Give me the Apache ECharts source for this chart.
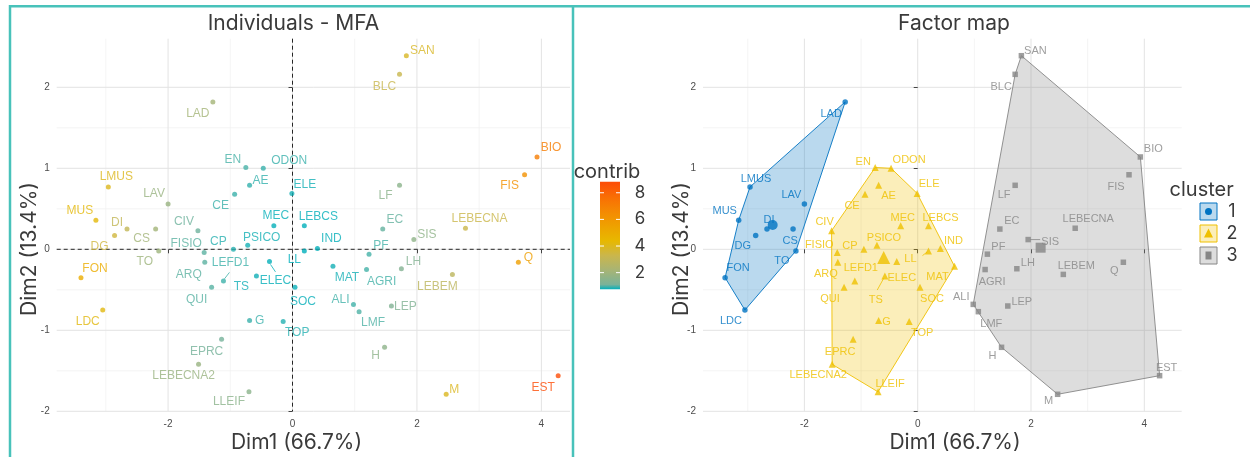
<!DOCTYPE html>
<html><head><meta charset="utf-8">
<script src="https://cdn.jsdelivr.net/npm/echarts@6/dist/echarts.min.js"></script>
<style>html,body{margin:0;padding:0;background:#fff}#c{width:1250px;height:457px}</style>
</head><body><div id="c"></div>
<script>
// ---------------- data ----------------
const names = ['LAD','LMUS','LAV','MUS','DI','DG','CS','TO','FON','LDC',
  'EN','ODON','AE','CE','ELE','CIV','MEC','LEBCS','IND','FISIO','CP','PSICO','LL','ARQ','LEFD1','ELEC','TS','QUI','MAT','SOC','G','TOP','EPRC','LEBECNA2','LLEIF',
  'SAN','BLC','BIO','FIS','LF','EC','LEBECNA','SIS','PF','LH','LEBEM','Q','AGRI','ALI','LEP','LMF','H','EST','M'];
const dim1 = [-1.28,-2.96,-2.00,-3.16,-2.66,-2.86,-2.20,-2.15,-3.40,-3.05,
  -0.75,-0.47,-0.69,-0.93,-0.01,-1.52,-0.30,0.19,0.40,-1.42,-0.95,-0.72,0.19,-1.41,-1.11,-0.37,-0.58,-1.30,0.65,0.04,-0.69,-0.15,-1.14,-1.51,-0.70,
  1.83,1.72,3.93,3.73,1.72,1.45,2.78,1.95,1.23,1.75,2.57,3.63,1.19,0.98,1.59,1.07,1.48,4.27,2.47];
const dim2 = [1.82,0.77,0.56,0.36,0.25,0.17,0.25,-0.02,-0.35,-0.75,
  1.01,1.00,0.79,0.68,0.69,0.23,0.29,0.29,0.01,-0.04,0.00,0.05,-0.02,-0.16,-0.39,-0.15,-0.33,-0.47,-0.21,-0.47,-0.88,-0.89,-1.11,-1.42,-1.76,
  2.39,2.16,1.14,0.92,0.79,0.25,0.26,0.12,-0.06,-0.24,-0.31,-0.16,-0.25,-0.68,-0.70,-0.77,-1.21,-1.56,-1.79];
const contrib = [2.10,3.96,1.82,4.28,3.02,3.47,2.07,1.96,4.94,4.17,
  0.67,0.52,0.47,0.56,0.20,1.00,0.07,0.05,0.07,0.85,0.38,0.22,0.02,0.85,0.58,0.07,0.19,0.81,0.20,0.09,0.53,0.34,1.07,1.82,1.52,
  3.83,3.23,7.08,6.24,1.51,0.91,3.30,1.61,0.64,1.32,2.84,5.59,0.63,0.60,1.28,0.73,1.55,8.74,3.94];
const cluster = [1,1,1,1,1,1,1,1,1,1,
  2,2,2,2,2,2,2,2,2,2,2,2,2,2,2,2,2,2,2,2,2,2,2,2,2,
  3,3,3,3,3,3,3,3,3,3,3,3,3,3,3,3,3,3,3];
const clusterLabels = ['1','2','3'];
const centerDim1 = [-2.56,-0.60,2.17];
const centerDim2 = [0.30,-0.10,0.02];
const xTickValues = [-2,0,2,4];
const yTickValues = [-2,-1,0,1,2];
const xMinorValues = [-3,-1,1,3];
const yMinorValues = [-1.5,-0.5,0.5,1.5];
const contribTicks = [2,4,6,8];

// ---------------- styles ----------------
const contribColors = ['#00AFBB','#7AB299','#A8B474','#CAB64C','#E7B800','#EEA200','#F48A02','#F96F04','#FC4E07'];
const clusterColors = ['#0073C2','#EFC000','#868686'];
const clusterFills = ['rgba(0,115,194,0.27)','rgba(239,192,0,0.27)','rgba(134,134,134,0.28)'];
const clusterSymbols = ['circle','triangle','rect'];
const clusterSymbolSize = [5.5,7,5.5];
const centerSymbolSize = [10,13,10];
const teal = '#48C2BA';
const labelFont = 'Liberation Sans, Arial, sans-serif';
const titleFont = 'Inter, Lato, sans-serif';

const leftLabelOffset = {LAD:[-15,12],LMUS:[8,-10],LAV:[-14,-10],MUS:[-16,-9],DI:[-10,-6],DG:[-15,11],CS:[-14,10],TO:[-14,11],FON:[14,-9],LDC:[-15,12],
  EN:[-13,-8],ODON:[26,-8],AE:[11,-5],CE:[-14,11],ELE:[13,-9],CIV:[-14,-9],MEC:[2,-10],LEBCS:[14,-9],IND:[14,-10],FISIO:[-18,-9],CP:[-15,-8],PSICO:[14,-8],LL:[-10,9],ARQ:[-16,12],LEFD1:[7,-18],ELEC:[6,19],TS:[-15,11],QUI:[-15,12],MAT:[14,11],SOC:[8,14],G:[10,0],TOP:[14,11],EPRC:[-15,12],LEBECNA2:[-15,11],LLEIF:[-20,10],
  SAN:[16,-5],BLC:[-15,12],BIO:[14,-9],FIS:[-15,11],LF:[-14,10],EC:[12,-9],LEBECNA:[14,-10],SIS:[13,-5],PF:[12,-8],LH:[12,-7],LEBEM:[-15,12],Q:[10,-5],AGRI:[15,12],ALI:[-13,-5],LEP:[14,1],LMF:[14,11],H:[-9,8],EST:[-15,12],M:[8,-5]};
const rightLabelOffset = {LAD:[-14,12],LMUS:[6,-8],LAV:[-13,-9],MUS:[-14,-9],DI:[2,-9],DG:[-13,10],CS:[-3,12],TO:[-14,10],FON:[13,-10],LDC:[-14,11],
  EN:[-12,-6],ODON:[18,-8],AE:[10,11],CE:[-13,12],ELE:[12,-9],MEC:[2,-8],LEBCS:[12,-8],CIV:[-7,-9],FISIO:[-18,-8],CP:[-14,-3],PSICO:[7,-7],LL:[-18,8],IND:[13,-8],ARQ:[-12,12],LEFD1:[6,-13],ELEC:[5,17],TS:[-9,24],MAT:[-17,11],QUI:[-14,12],SOC:[12,12],G:[8,1],TOP:[13,12],EPRC:[-13,13],LEBECNA2:[-14,11],LLEIF:[12,-8],
  ALI:[-12,-7],SAN:[14,-5],BLC:[-14,13],BIO:[13,-8],FIS:[-13,12],LF:[-11,10],EC:[12,-8],LEBECNA:[13,-9],SIS:[22,2],PF:[11,-7],LH:[11,-6],LEBEM:[13,-8],Q:[-9,9],AGRI:[7,12],LEP:[14,-4],LMF:[13,12],H:[-9,9],EST:[7,-8],M:[-9,7]};
const leftSegments = [['LEFD1',1,-2,6,-8.5],['ELEC',1,3,6,10.4]];
const rightSegments = [['LL',-6,4.7,-1,0.8],['TS',-1,2,-7.6,14],['SIS',2,0,12,0]];

// ---------------- helpers ----------------
function convexHull(pts){
  pts = pts.slice().sort((a,b)=>a[0]-b[0]||a[1]-b[1]);
  const cross=(o,a,b)=>(a[0]-o[0])*(b[1]-o[1])-(a[1]-o[1])*(b[0]-o[0]);
  const lower=[];for(const p of pts){while(lower.length>=2&&cross(lower[lower.length-2],lower[lower.length-1],p)<=0)lower.pop();lower.push(p);}
  const upper=[];for(let i=pts.length-1;i>=0;i--){const p=pts[i];while(upper.length>=2&&cross(upper[upper.length-2],upper[upper.length-1],p)<=0)upper.pop();upper.push(p);}
  upper.pop();lower.pop();return lower.concat(upper);
}
function gridRenderer(dashedZero){
  return function(params, api){
    const cs = params.coordSys;
    const ch = [];
    const major = {stroke:'#e3e3e3', lineWidth:1};
    const minor = {stroke:'#efefef', lineWidth:0.7};
    const vline=(v,st)=>{const p=api.coord([v,0]);ch.push({type:'line',shape:{x1:p[0],y1:cs.y,x2:p[0],y2:cs.y+cs.height},style:st});};
    const hline=(v,st)=>{const p=api.coord([0,v]);ch.push({type:'line',shape:{x1:cs.x,y1:p[1],x2:cs.x+cs.width,y2:p[1]},style:st});};
    xMinorValues.forEach(v=>vline(v,minor)); yMinorValues.forEach(v=>hline(v,minor));
    xTickValues.forEach(v=>vline(v,major)); yTickValues.forEach(v=>hline(v,major));
    if(dashedZero){
      const d={stroke:'#111',lineWidth:0.9,lineDash:[4,3]};
      vline(0,d); hline(0,d);
    }
    return {type:'group',children:ch};
  };
}
function segRenderer(list){
  return function(params, api){
    const s = list[params.dataIndex];
    const p = api.coord([api.value(0), api.value(1)]);
    return {type:'line',shape:{x1:p[0]+s[1],y1:p[1]+s[2],x2:p[0]+s[3],y2:p[1]+s[4]},style:{stroke:api.visual('color'),lineWidth:0.8}};
  };
}

const cMin = Math.min(...contrib), cMax = Math.max(...contrib);

const xAxisCommon = {type:'value', splitLine:{show:false}, axisLine:{show:false},
  axisTick:{show:true, length:4, customValues:xTickValues, lineStyle:{color:'#444', width:1}},
  axisLabel:{customValues:xTickValues, fontSize:10, color:'#4d4d4d', margin:8, fontFamily:labelFont}};
const yAxisCommon = {type:'value', min:-2.0, max:2.6, splitLine:{show:false}, axisLine:{show:false},
  axisTick:{show:true, length:4, customValues:yTickValues, lineStyle:{color:'#444', width:1}},
  axisLabel:{customValues:yTickValues, fontSize:10, color:'#4d4d4d', margin:7, fontFamily:labelFont}};

const series = [];
// 0 left grid lines
series.push({type:'custom', xAxisIndex:0, yAxisIndex:0, silent:true, z:0, data:[[0,0]], renderItem:gridRenderer(true)});
// 1 left scatter
series.push({type:'scatter', xAxisIndex:0, yAxisIndex:0, z:5, symbolSize:5,
  data: names.map((n,i)=>({name:n, value:[dim1[i],dim2[i],contrib[i]], label:{offset:leftLabelOffset[n]}})),
  label:{show:true, position:'inside', formatter:'{b}', color:'inherit', fontSize:12, fontFamily:labelFont, align:'center', verticalAlign:'middle'},
  emphasis:{disabled:true}});
// 2 left segments
series.push({type:'custom', xAxisIndex:0, yAxisIndex:0, silent:true, z:4,
  data: leftSegments.map(s=>{const i=names.indexOf(s[0]);return [dim1[i],dim2[i],contrib[i]];}),
  renderItem:segRenderer(leftSegments)});
// 3 right grid lines
series.push({type:'custom', xAxisIndex:1, yAxisIndex:1, silent:true, z:0, data:[[0,0]], renderItem:gridRenderer(false)});
// 4 hulls
series.push({type:'custom', xAxisIndex:1, yAxisIndex:1, silent:true, z:1,
  data: clusterLabels.map((c,k)=>[centerDim1[k],centerDim2[k]]),
  renderItem:(params, api)=>{
    const k = params.dataIndex;
    const pts = [];
    cluster.forEach((c,i)=>{ if(c===k+1) pts.push([dim1[i],dim2[i]]); });
    const poly = convexHull(pts).map(p=>api.coord(p));
    return {type:'polygon', shape:{points:poly}, style:{fill:clusterFills[k], stroke:clusterColors[k], lineWidth:0.9}};
  }});
// right scatter per cluster
clusterLabels.forEach((c,k)=>{
  series.push({type:'scatter', xAxisIndex:1, yAxisIndex:1, z:5, symbol:clusterSymbols[k], symbolSize:clusterSymbolSize[k],
    itemStyle:{color:clusterColors[k]},
    data: names.map((n,i)=>cluster[i]===k+1?{name:n, value:[dim1[i],dim2[i]], label:{offset:rightLabelOffset[n]}}:null).filter(d=>d),
    label:{show:true, position:'inside', formatter:'{b}', color:clusterColors[k], fontSize:11, fontFamily:labelFont, align:'center', verticalAlign:'middle'},
    emphasis:{disabled:true}});
});
// right segments
series.push({type:'custom', xAxisIndex:1, yAxisIndex:1, silent:true, z:4,
  data: rightSegments.map(s=>{const i=names.indexOf(s[0]);return [dim1[i],dim2[i]];}),
  itemStyle:{color:'#888'},
  renderItem:(params, api)=>{
    const s = rightSegments[params.dataIndex];
    const k = cluster[names.indexOf(s[0])]-1;
    const p = api.coord([api.value(0), api.value(1)]);
    return {type:'line',shape:{x1:p[0]+s[1],y1:p[1]+s[2],x2:p[0]+s[3],y2:p[1]+s[4]},style:{stroke:clusterColors[k],lineWidth:0.8}};
  }});
// centroids
clusterLabels.forEach((c,k)=>{
  series.push({type:'scatter', xAxisIndex:1, yAxisIndex:1, z:6, symbol:clusterSymbols[k], symbolSize:centerSymbolSize[k],
    itemStyle:{color:clusterColors[k]}, data:[[centerDim1[k],centerDim2[k]]], emphasis:{disabled:true}});
});

// ---------------- legends / titles (graphic) ----------------
const barX=600, barY=181.7, barW=20, barH=107.6;
const bar0 = 0.75, bar1 = 8.83; // value range covered by the colour bar
const vToY = v => barY + barH - (v-bar0)/(bar1-bar0)*barH;
const graphics = [];
graphics.push({type:'rect', shape:{x:10,y:6.2,width:563,height:470}, style:{fill:'none', stroke:teal, lineWidth:2.5}, z:100});
graphics.push({type:'line', shape:{x1:573,y1:6.2,x2:1250,y2:6.2}, style:{stroke:teal, lineWidth:2.5}, z:100});
const txt = (text,x,y,size,extra)=>Object.assign({type:'text', x:x, y:y, style:{text:text, x:0, y:0, align:'center', verticalAlign:'middle', font:size+'px '+titleFont, fill:'#3a3a3a'}, z:100}, extra||{});
graphics.push(txt('Individuals - MFA',293.5,24,21));
graphics.push(txt('Factor map',954,24,21));
graphics.push(txt('Dim1 (66.7%)',296.5,443,21));
graphics.push(txt('Dim1 (66.7%)',955,443,21));
graphics.push(txt('Dim2 (13.4%)',30,249,21,{rotation:Math.PI/2}));
graphics.push(txt('Dim2 (13.4%)',682,249,21,{rotation:Math.PI/2}));
// contrib colour bar
graphics.push(txt('contrib',607,172,20));
const stops = contribColors.map((c,i)=>({offset:1-((cMin+(cMax-cMin)*i/(contribColors.length-1))-bar0)/(bar1-bar0), color:c}))
  .map(s=>({offset:Math.min(1,Math.max(0,s.offset)), color:s.color})).reverse();
graphics.push({type:'rect', shape:{x:barX,y:barY,width:barW,height:barH}, style:{fill:new echarts.graphic.LinearGradient(0,0,0,1,stops)}, z:100});
contribTicks.forEach(v=>{
  const y = vToY(v);
  graphics.push({type:'line', shape:{x1:barX,y1:y,x2:barX+4,y2:y}, style:{stroke:'#fff',lineWidth:1}, z:101});
  graphics.push({type:'line', shape:{x1:barX+barW-4,y1:y,x2:barX+barW,y2:y}, style:{stroke:'#fff',lineWidth:1}, z:101});
  graphics.push(txt(String(v),640,y,17));
});
// cluster legend
graphics.push(txt('cluster',1201.7,190,20));
clusterLabels.forEach((c,k)=>{
  const y0 = 203+k*22;
  graphics.push({type:'rect', shape:{x:1200,y:y0,width:17,height:17}, style:{fill:clusterFills[k], stroke:clusterColors[k], lineWidth:1}, z:100});
  let shape;
  if(k===0) shape={type:'circle', shape:{cx:1208.5,cy:y0+8.5,r:3.5}, style:{fill:clusterColors[k]}, z:101};
  else if(k===1) shape={type:'polygon', shape:{points:[[1208.5,y0+3.5],[1213,y0+12.5],[1204,y0+12.5]]}, style:{fill:clusterColors[k]}, z:101};
  else shape={type:'rect', shape:{x:1205.5,y:y0+4.5,width:6,height:8}, style:{fill:clusterColors[k]}, z:101};
  graphics.push(shape);
  graphics.push(txt(c,1232,y0+9,18));
});

const chart = echarts.init(document.getElementById('c'));
chart.setOption({
  backgroundColor:'#fff',
  animation:false,
  grid:[{left:56.7, top:38.7, width:513.3, height:372.6},{left:703, top:38.7, width:478.7, height:372.6}],
  xAxis:[Object.assign({gridIndex:0, min:-3.79, max:4.46}, xAxisCommon), Object.assign({gridIndex:1, min:-3.79, max:4.66}, xAxisCommon)],
  yAxis:[Object.assign({gridIndex:0}, yAxisCommon), Object.assign({gridIndex:1}, yAxisCommon)],
  visualMap:[{type:'continuous', show:false, seriesIndex:[1,2], dimension:2, min:cMin, max:cMax, inRange:{color:contribColors}}],
  series: series,
  graphic: graphics
});
</script></body></html>
